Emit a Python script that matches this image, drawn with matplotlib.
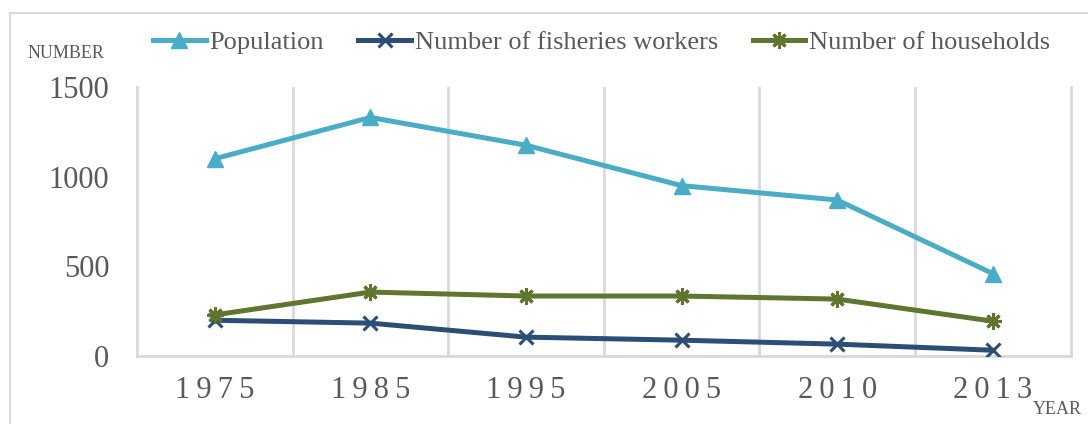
import matplotlib.pyplot as plt
from matplotlib.patches import Rectangle

# data
years = ["1975", "1985", "1995", "2005", "2010", "2013"]
population = [1100, 1330, 1175, 950, 870, 460]
fisheries_workers = [200, 184, 106, 89, 67, 33]
households = [230, 357, 335, 335, 318, 195]

y_ticks = [0, 500, 1000, 1500]

TEXT = "#595959"
GRID = "#d9d9d9"

plt.rcParams["font.family"] = ["Liberation Serif", "DejaVu Serif"]

fig = plt.figure(figsize=(10.88, 4.24), dpi=100)
ax = fig.add_axes([0.126, 0.160, 0.858, 0.635])

# outer chart frame (runs off the right/bottom edge like the reference)
fig.patches.append(Rectangle((10 / 1088, -0.05), 1.2, 1 - 13 / 424 + 0.05,
                             transform=fig.transFigure, fill=False,
                             edgecolor=GRID, linewidth=1.5))

x = list(range(len(years)))
ax.plot(x, population, color="#4BACC6", linewidth=3.6, marker="^",
        markersize=11, label="Population", zorder=3)
ax.plot(x, fisheries_workers, color="#2C4D75", linewidth=3.6, marker="x",
        markersize=10, markeredgewidth=2.2, label="Number of fisheries workers", zorder=3)
ax.plot(x, households, color="#5F7530", linewidth=3.6, marker=(8, 2, 0),
        markersize=12, markeredgewidth=2.2, label="Number of households", zorder=3)

ax.set_xlim(-0.5, len(years) - 0.5)
ax.set_ylim(0, 1500)
ax.set_yticks(y_ticks)
ax.set_yticklabels([str(v) for v in y_ticks], fontsize=22, color=TEXT)
ax.set_xticks(x)
ax.set_xticklabels(["\u2009".join(y) for y in years], fontsize=22, color=TEXT)
ax.tick_params(length=0, pad=14)
ax.tick_params(axis="y", pad=20)

# vertical gridlines at category boundaries
ax.set_xticks([i + 0.5 for i in x[:-1]], minor=True)
ax.tick_params(which="minor", length=0)
ax.grid(axis="x", which="minor", color=GRID, linewidth=2)

for side in ["left", "right", "bottom"]:
    ax.spines[side].set_color(GRID)
    ax.spines[side].set_linewidth(2)
ax.spines["top"].set_visible(False)

fig.text(28 / 1088, 1 - 54 / 424, "NUMBER", fontsize=13, color=TEXT, va="center")
fig.text(1033 / 1088, 1 - 410 / 424, "YEAR", fontsize=13, color=TEXT, va="center")

leg = fig.legend(loc="center", bbox_to_anchor=(0.553, 1 - 42 / 424), ncol=3,
                 frameon=False, fontsize=19, handlelength=2.0, columnspacing=1.3,
                 handletextpad=0.15)
for t in leg.get_texts():
    t.set_color(TEXT)

fig.savefig("out.png", dpi=100)
